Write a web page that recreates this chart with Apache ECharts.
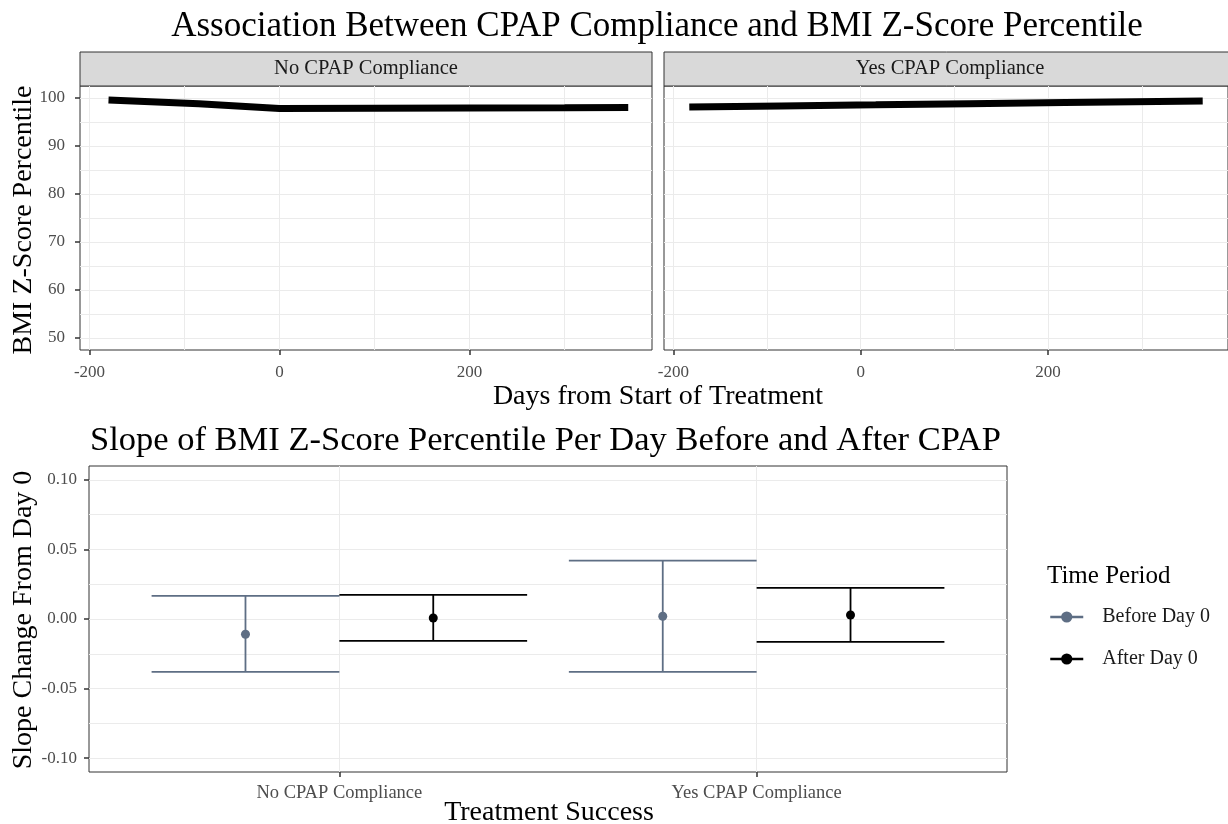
<!DOCTYPE html>
<html><head><meta charset="utf-8">
<script src="https://cdn.jsdelivr.net/npm/echarts@6/dist/echarts.min.js"></script>
<style>html,body{margin:0;padding:0;background:#fff}#c{width:1228px;height:824px}</style>
</head><body><div id="c"></div><script>
// ---- data ----
const panels = ['No CPAP Compliance', 'Yes CPAP Compliance'];
const noDays = [-180, -85, 0, 100, 200, 300, 367];
const noPct  = [99.6, 98.8, 97.8, 97.85, 97.9, 97.95, 98.0];
const yesDays = [-183, -85, 16, 116, 218, 317, 365];
const yesPct  = [98.1, 98.33, 98.57, 98.81, 99.05, 99.29, 99.4];
const dayTicks = [-200, 0, 200];
const dayGrid = [-200, -100, 0, 100, 200, 300];
const pctTicks = [50, 60, 70, 80, 90, 100];
const pctGrid = [50, 55, 60, 65, 70, 75, 80, 85, 90, 95, 100];

const categories = ['No CPAP Compliance', 'Yes CPAP Compliance'];
const periods = ['Before Day 0', 'After Day 0'];
const beforeMean = [-0.011, 0.002];
const beforeLow  = [-0.038, -0.038];
const beforeHigh = [0.0166, 0.0419];
const afterMean  = [0.0007, 0.0029];
const afterLow   = [-0.0157, -0.0164];
const afterHigh  = [0.0174, 0.0224];
const slopeTicks = [-0.10, -0.05, 0.00, 0.05, 0.10];
const slopeGrid  = [-0.10, -0.075, -0.05, -0.025, 0, 0.025, 0.05, 0.075, 0.10];

// ---- styles ----
const FONT = 'Liberation Serif';
const BEFORE_COLOR = '#5e6e84';
const AFTER_COLOR = '#000000';
const GRIDC = '#ebebeb';
const DODGE = 0.225, CAP = 0.45;

const chart = echarts.init(document.getElementById('c'), null, {renderer: 'canvas'});

function pair(arrX, arrY) { return arrX.map((x, i) => [x, arrY[i]]); }
function dodgeX(offset) { return categories.map((c, i) => i + 1 + offset); }

function splitAxis(grid, min, max, vals) {
  return {
    type: 'value', gridIndex: grid, min: min, max: max,
    axisLine: {show: false, onZero: false},
    axisTick: {show: false, customValues: vals},
    axisLabel: {show: false},
    splitLine: {show: true, lineStyle: {color: GRIDC, width: 1}}
  };
}
function labelAxis(grid, min, max, vals, pos, fmt, show, margin, fs) {
  return {
    type: 'value', gridIndex: grid, min: min, max: max, position: pos,
    axisLine: {show: false, onZero: false},
    axisTick: {show: show, customValues: vals, length: 5, lineStyle: {color: '#333', width: 1.5}},
    axisLabel: {show: show, customValues: vals, fontFamily: FONT, fontSize: fs, color: '#4d4d4d', margin: margin,
      formatter: fmt},
    splitLine: {show: false}
  };
}

function errRender(color) {
  return function (params, api) {
    const x = api.value(0), lo = api.value(1), hi = api.value(2);
    const pLo = api.coord([x, lo]), pHi = api.coord([x, hi]);
    const half = api.size([CAP, 0])[0] / 2;
    const st = {stroke: color, lineWidth: 1.8};
    return {type: 'group', children: [
      {type: 'line', shape: {x1: pLo[0], y1: pLo[1], x2: pHi[0], y2: pHi[1]}, style: st},
      {type: 'line', shape: {x1: pHi[0] - half, y1: pHi[1], x2: pHi[0] + half, y2: pHi[1]}, style: st},
      {type: 'line', shape: {x1: pLo[0] - half, y1: pLo[1], x2: pLo[0] + half, y2: pLo[1]}, style: st}
    ]};
  };
}

const bx = dodgeX(-DODGE), ax = dodgeX(DODGE);
const beforeErr = bx.map((x, i) => [x, beforeLow[i], beforeHigh[i]]);
const afterErr = ax.map((x, i) => [x, afterLow[i], afterHigh[i]]);
const beforePts = [[bx[0], beforeMean[0]], [1.5, '-'], [bx[1], beforeMean[1]]];
const afterPts = [[ax[0], afterMean[0]], [1.5, '-'], [ax[1], afterMean[1]]];

const option = {
  backgroundColor: '#ffffff',
  animation: false,
  grid: [
    {left: 80, top: 86, width: 572, height: 264, show: true, borderColor: '#333333', borderWidth: 1, backgroundColor: '#fff', containLabel: false},
    {left: 664, top: 86, width: 572, height: 264, show: true, borderColor: '#333333', borderWidth: 1, backgroundColor: '#fff', containLabel: false},
    {left: 89, top: 466, width: 918, height: 306, show: true, borderColor: '#333333', borderWidth: 1, backgroundColor: '#fff', containLabel: false}
  ],
  xAxis: [
    splitAxis(0, -210, 392, dayGrid),
    labelAxis(0, -210, 392, dayTicks, 'bottom', v => String(v), true, 14, 17),
    splitAxis(1, -210, 392, dayGrid),
    labelAxis(1, -210, 392, dayTicks, 'bottom', v => String(v), true, 14, 17),
    splitAxis(2, 0.4, 2.6, [1, 2]),
    labelAxis(2, 0.4, 2.6, [1, 2], 'bottom', v => categories[Math.round(v) - 1], true, 12, 18.5)
  ],
  yAxis: [
    splitAxis(0, 47.5, 102.5, pctGrid),
    labelAxis(0, 47.5, 102.5, pctTicks, 'left', v => String(v), true, 15, 17),
    splitAxis(1, 47.5, 102.5, pctGrid),
    labelAxis(1, 47.5, 102.5, pctTicks, 'left', v => String(v), false, 15, 17),
    splitAxis(2, -0.11, 0.11, slopeGrid),
    labelAxis(2, -0.11, 0.11, slopeTicks, 'left', v => v.toFixed(2), true, 12, 17)
  ],
  legend: {
    orient: 'vertical', left: 1044, top: 602, itemWidth: 33, itemHeight: 14, itemGap: 22,
    lineStyle: {width: 2.5},
    textStyle: {fontFamily: FONT, fontSize: 20, color: '#1a1a1a', padding: [0, 0, 0, 14]},
    data: periods
  },
  series: [
    {type: 'line', name: panels[0], xAxisIndex: 0, yAxisIndex: 0, data: pair(noDays, noPct),
      showSymbol: false, lineStyle: {color: '#000', width: 7}, silent: true},
    {type: 'line', name: panels[1], xAxisIndex: 2, yAxisIndex: 2, data: pair(yesDays, yesPct),
      showSymbol: false, lineStyle: {color: '#000', width: 7}, silent: true},
    {type: 'custom', name: periods[0] + ' interval', xAxisIndex: 4, yAxisIndex: 4, renderItem: errRender(BEFORE_COLOR),
      encode: {x: 0, y: [1, 2]}, data: beforeErr, itemStyle: {color: BEFORE_COLOR}},
    {type: 'custom', name: periods[1] + ' interval', xAxisIndex: 4, yAxisIndex: 4, renderItem: errRender(AFTER_COLOR),
      encode: {x: 0, y: [1, 2]}, data: afterErr, itemStyle: {color: AFTER_COLOR}},
    {type: 'line', name: periods[0], xAxisIndex: 4, yAxisIndex: 4, data: beforePts, connectNulls: false,
      symbol: 'circle', symbolSize: 9, showAllSymbol: true, z: 5,
      itemStyle: {color: BEFORE_COLOR}, lineStyle: {color: BEFORE_COLOR, width: 2}},
    {type: 'line', name: periods[1], xAxisIndex: 4, yAxisIndex: 4, data: afterPts, connectNulls: false,
      symbol: 'circle', symbolSize: 9, showAllSymbol: true, z: 5,
      itemStyle: {color: AFTER_COLOR}, lineStyle: {color: AFTER_COLOR, width: 2}}
  ],
  graphic: [
    {type: 'text', x: 657, y: 27, style: {text: 'Association Between CPAP Compliance and BMI Z-Score Percentile', font: '35px "' + FONT + '"', fill: '#000', align: 'center', verticalAlign: 'middle'}},
    {type: 'rect', shape: {x: 80, y: 52, width: 572, height: 34}, style: {fill: '#d9d9d9', stroke: '#333333', lineWidth: 1}},
    {type: 'rect', shape: {x: 664, y: 52, width: 572, height: 34}, style: {fill: '#d9d9d9', stroke: '#333333', lineWidth: 1}},
    {type: 'text', x: 366, y: 69, style: {text: panels[0], font: '20.5px "' + FONT + '"', fill: '#1a1a1a', align: 'center', verticalAlign: 'middle'}},
    {type: 'text', x: 950, y: 69, style: {text: panels[1], font: '20.5px "' + FONT + '"', fill: '#1a1a1a', align: 'center', verticalAlign: 'middle'}},
    {type: 'text', x: 24, y: 220, rotation: Math.PI / 2, style: {text: 'BMI Z-Score Percentile', font: '28px "' + FONT + '"', fill: '#000', align: 'center', verticalAlign: 'middle'}},
    {type: 'text', x: 658, y: 397, style: {text: 'Days from Start of Treatment', font: '28px "' + FONT + '"', fill: '#000', align: 'center', verticalAlign: 'middle'}},
    {type: 'text', x: 90, y: 441, style: {text: 'Slope of BMI Z-Score Percentile Per Day Before and After CPAP', font: '34.5px "' + FONT + '"', fill: '#000', align: 'left', verticalAlign: 'middle'}},
    {type: 'text', x: 24, y: 620, rotation: Math.PI / 2, style: {text: 'Slope Change From Day 0', font: '28px "' + FONT + '"', fill: '#000', align: 'center', verticalAlign: 'middle'}},
    {type: 'text', x: 549, y: 813, style: {text: 'Treatment Success', font: '28px "' + FONT + '"', fill: '#000', align: 'center', verticalAlign: 'middle'}},
    {type: 'text', x: 1047, y: 576, style: {text: 'Time Period', font: '25px "' + FONT + '"', fill: '#000', align: 'left', verticalAlign: 'middle'}}
  ]
};
chart.setOption(option);
</script></body></html>
